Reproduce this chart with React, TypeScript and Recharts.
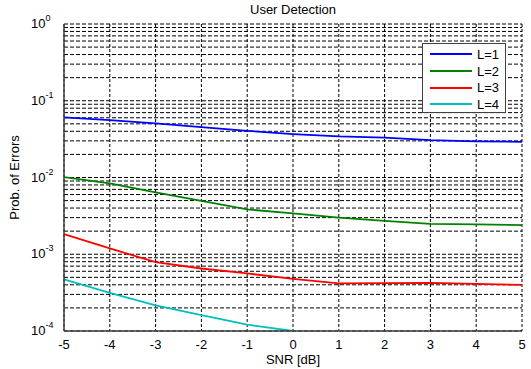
import { CartesianGrid, Line, LineChart, XAxis, YAxis } from "recharts";

const snr = [-5, -4, -3, -2, -1, 0, 1, 2, 3, 4, 5];
const l1 = [0.0607, 0.056, 0.0507, 0.0454, 0.0406, 0.0368, 0.0343, 0.033, 0.0307, 0.0295, 0.0292];
const l2 = [0.0101, 0.00838, 0.00639, 0.00497, 0.00384, 0.0034, 0.003, 0.00272, 0.00249, 0.00245, 0.0024];
const l3 = [0.00183, 0.00119, 0.00079, 0.000652, 0.000562, 0.000478, 0.000417, 0.00042, 0.000424, 0.000411, 0.000399];
const l4 = [0.000469, 0.000314, 0.000215, 0.000161, 0.000121, 0.0001, null, null, null, null, null];

const xTicks = [-5, -4, -3, -2, -1, 0, 1, 2, 3, 4, 5];
const decades = [1e-4, 1e-3, 1e-2, 1e-1];
const minorSteps = [1, 2, 3, 4, 5, 6, 7, 8, 9];
const yTicks = [...decades.flatMap((d) => minorSteps.map((m) => +(d * m).toPrecision(3))), 1];

const series = [
  { key: "l1", name: "L=1", color: "#0000FF" },
  { key: "l2", name: "L=2", color: "#008000" },
  { key: "l3", name: "L=3", color: "#FF0000" },
  { key: "l4", name: "L=4", color: "#00BFBF" },
];

const data = snr.map((x, i) => ({ x, l1: l1[i], l2: l2[i], l3: l3[i], l4: l4[i] }));

const FONT = "'Liberation Sans', Arial, sans-serif";

// only decades get a label, drawn MATLAB-style as 10^n
function LogTick({ x, y, payload }: any) {
  const v = payload.value;
  const exp = Math.round(Math.log10(v));
  if (Math.abs(Math.log10(v) - exp) > 1e-6) return null;
  return (
    <text x={x - 25} y={y + 4} textAnchor="start" fontSize={13} fill="#000" fontFamily={FONT}>
      10
      <tspan dy={-7} fontSize={9}>{exp}</tspan>
    </text>
  );
}

function LegendBox() {
  return (
    <div
      style={{
        position: "absolute",
        top: 43,
        left: 422,
        border: "1px solid #404040",
        background: "#fff",
        width: 84,
        height: 70,
        boxSizing: "border-box",
        paddingTop: 2,
        fontSize: 13,
      }}
    >
      {series.map((s) => (
        <div key={s.key} style={{ display: "flex", alignItems: "center", height: 16.7 }}>
          <svg width={42} height={10} style={{ marginLeft: 7 }}>
            <line x1={0} y1={5} x2={42} y2={5} stroke={s.color} strokeWidth={2} />
          </svg>
          <span style={{ marginLeft: 5, color: "#000" }}>{s.name}</span>
        </div>
      ))}
    </div>
  );
}

export default function App() {
  return (
    <div style={{ position: "relative", width: 531, height: 369, background: "#fff", fontFamily: FONT }}>
      <style>{`body{margin:0}`}</style>
      <div
        style={{
          position: "absolute",
          top: 2,
          left: 64,
          width: 458,
          textAlign: "center",
          fontSize: 13,
          color: "#000",
        }}
      >
        User Detection
      </div>
      <LineChart width={531} height={369} data={data} margin={{ top: 24, right: 9, bottom: 0, left: 0 }}>
        <CartesianGrid horizontal={false} stroke="#000" strokeDasharray="3 2" />
        <CartesianGrid vertical={false} stroke="#000" strokeDasharray="4 2" />
        <XAxis
          dataKey="x"
          type="number"
          domain={[-5, 5]}
          ticks={xTicks}
          height={38}
          tickLine={false}
          axisLine={{ stroke: "#404040", strokeWidth: 1.5 }}
          tick={{ fontSize: 13, fill: "#000", fontFamily: FONT }}
          tickMargin={3}
          label={{ value: "SNR [dB]", position: "insideBottom", offset: 5, fontSize: 13, fill: "#000", fontFamily: FONT }}
        />
        <YAxis
          type="number"
          scale="log"
          domain={[1e-4, 1]}
          ticks={yTicks}
          allowDataOverflow
          width={64}
          tickLine={false}
          interval={0}
          axisLine={{ stroke: "#404040", strokeWidth: 1.5 }}
          tick={<LogTick />}
          label={{
            value: "Prob. of Errors",
            angle: -90,
            position: "insideLeft",
            offset: 14,
            style: { textAnchor: "middle" },
            fontSize: 13,
            fill: "#000",
            fontFamily: FONT,
          }}
        />
        <XAxis xAxisId="top" orientation="top" type="number" domain={[-5, 5]} dataKey="x" tick={false} tickLine={false} height={0} axisLine={{ stroke: "#404040", strokeWidth: 1.5 }} />
        <YAxis yAxisId="right" orientation="right" tick={false} tickLine={false} width={0} axisLine={{ stroke: "#404040", strokeWidth: 1.5 }} />
        {series.map((s) => (
          <Line
            key={s.key}
            dataKey={s.key}
            name={s.name}
            stroke={s.color}
            strokeWidth={1.8}
            dot={false}
            type="linear"
            isAnimationActive={false}
            connectNulls={false}
          />
        ))}
      </LineChart>
      <LegendBox />
    </div>
  );
}
